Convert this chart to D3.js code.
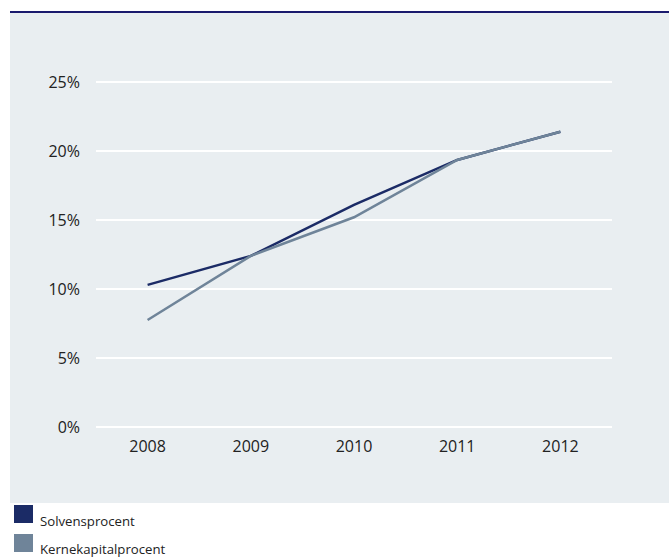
<!DOCTYPE html>
<html>
<head>
<meta charset="utf-8">
<script src="https://cdn.jsdelivr.net/npm/d3@7"></script>
<style>
  body { margin: 0; background: #fff; }
  svg { display: block; font-family: "Open Sans", sans-serif; }
</style>
</head>
<body>
<script>
const w = 669;
const h = 557;

// data
const years = ['2008', '2009', '2010', '2011', '2012'];
const solvens = [10.3, 12.4, 16.1, 19.35, 21.4];
const kerne = [7.75, 12.4, 15.2, 19.35, 21.4];
const yTicks = [0, 5, 10, 15, 20, 25];
const seriesNames = ['Solvensprocent', 'Kernekapitalprocent'];
const seriesColors = ['#1b2b66', '#6f8499'];

const svg = d3.select('body').append('svg')
  .attr('width', w)
  .attr('height', h);

// panel background + top rule
svg.append('rect')
  .attr('x', 10).attr('y', 13)
  .attr('width', w - 10).attr('height', 490)
  .attr('fill', '#e9eef1');
svg.append('rect')
  .attr('x', 10).attr('y', 11)
  .attr('width', w - 10).attr('height', 2)
  .attr('fill', '#1a1a6e');

const x = d3.scaleBand()
  .domain(years)
  .range([96, 612]);

const y = d3.scaleLinear()
  .domain([0, 25])
  .range([427, 82]);

// gridlines
svg.append('g')
  .selectAll('line')
  .data(yTicks)
  .enter().append('line')
  .attr('x1', 96)
  .attr('x2', 612)
  .attr('y1', d => y(d))
  .attr('y2', d => y(d))
  .attr('stroke', '#fff')
  .attr('stroke-width', 2);

// y axis labels
const yAxis = svg.append('g')
  .attr('transform', 'translate(80,0)')
  .call(d3.axisLeft(y).tickValues(yTicks).tickSize(0).tickPadding(0).tickFormat(d => d + '%'));
yAxis.select('.domain').remove();
yAxis.selectAll('text')
  .attr('font-family', '"Open Sans", sans-serif')
  .style('font-size', '16px')
  .attr('fill', '#222');

// x axis labels
const xAxis = svg.append('g')
  .attr('transform', 'translate(0,441)')
  .call(d3.axisBottom(x).tickSize(0).tickPadding(0));
xAxis.select('.domain').remove();
xAxis.selectAll('text')
  .attr('font-family', '"Open Sans", sans-serif')
  .style('font-size', '16px')
  .attr('fill', '#222');

// lines
const line = d3.line()
  .x((d, i) => x(years[i]) + x.bandwidth() / 2)
  .y(d => y(d));

[solvens, kerne].forEach((s, i) => {
  svg.append('path')
    .datum(s)
    .attr('d', line)
    .attr('fill', 'none')
    .attr('stroke', seriesColors[i])
    .attr('stroke-width', 2.5);
});

// legend
const legend = svg.append('g');
legend.selectAll('rect')
  .data(seriesNames)
  .enter().append('rect')
  .attr('x', 14)
  .attr('y', (d, i) => 505 + i * 29)
  .attr('width', 19)
  .attr('height', 18)
  .attr('fill', (d, i) => seriesColors[i]);
legend.selectAll('text')
  .data(seriesNames)
  .enter().append('text')
  .attr('x', 40)
  .attr('y', (d, i) => 526 + i * 28)
  .style('font-size', '13.2px')
  .attr('fill', '#222')
  .text(d => d);
</script>
</body>
</html>
